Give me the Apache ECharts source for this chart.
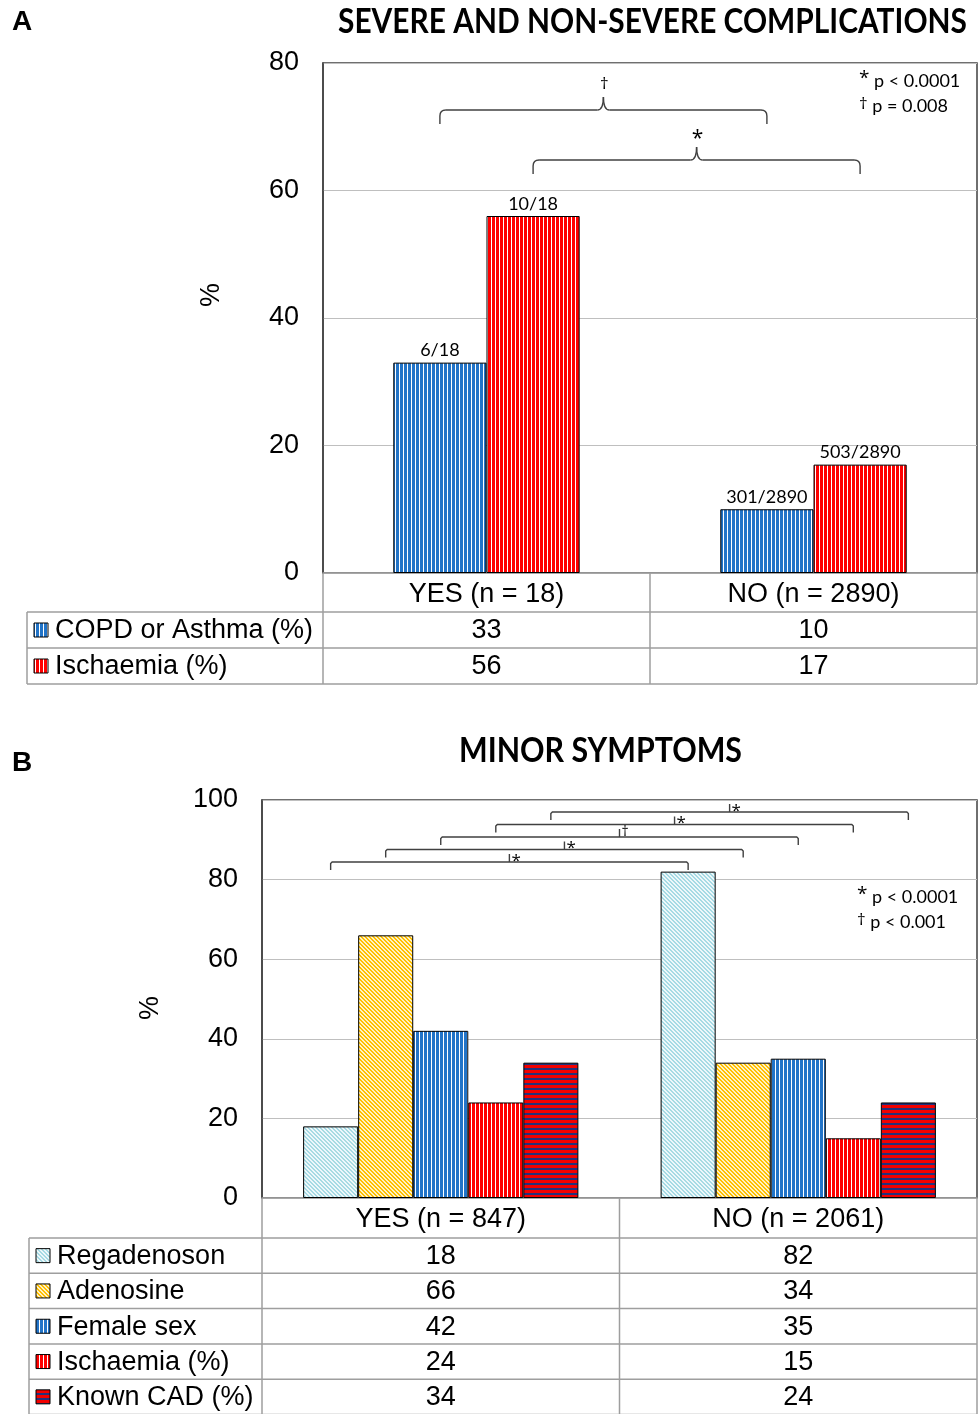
<!DOCTYPE html>
<html><head><meta charset="utf-8">
<script src="https://cdn.jsdelivr.net/npm/echarts@6/dist/echarts.min.js"></script>
<style>html,body{margin:0;padding:0;background:#fff}#c{width:978px;height:1414px}</style>
</head><body><div id="c"></div>
<script>
// ---------------- DATA ----------------
const categoriesA = ['YES (n = 18)', 'NO (n = 2890)'];
const seriesNamesA = ['COPD or Asthma (%)', 'Ischaemia (%)'];
const copdAsthmaA = [33, 10];
const ischaemiaA = [56, 17];
const fractionsCopdA = ['6/18', '301/2890'];
const fractionsIschA = ['10/18', '503/2890'];
const yTicksA = [0, 20, 40, 60, 80];
const comparisonMarksA = ['†', '*'];          // per series: YES vs NO
const pLegendA = [['*', 'p < 0.0001'], ['†', 'p = 0.008']];

const categoriesB = ['YES (n = 847)', 'NO (n = 2061)'];
const seriesNamesB = ['Regadenoson', 'Adenosine', 'Female sex', 'Ischaemia (%)', 'Known CAD (%)'];
const regadenosonB = [18, 82];
const adenosineB = [66, 34];
const femaleSexB = [42, 35];
const ischaemiaB = [24, 15];
const knownCadB = [34, 24];
const yTicksB = [0, 20, 40, 60, 80, 100];
const comparisonMarksB = ['*', '*', '†', '*', '*'];
const pLegendB = [['*', 'p < 0.0001'], ['†', 'p < 0.001']];

const titleA = 'SEVERE AND NON-SEVERE COMPLICATIONS';
const titleB = 'MINOR SYMPTOMS';

// ---------------- STYLE ----------------
const ARIAL = '"Liberation Sans", Arial, sans-serif';
const CALIB = 'Lato, "Open Sans", sans-serif';

function tile(w, h, fn) {
  const c = document.createElement('canvas'); c.width = w; c.height = h;
  const ctx = c.getContext('2d');
  for (let x = 0; x < w; x++) for (let y = 0; y < h; y++) { ctx.fillStyle = fn(x, y); ctx.fillRect(x, y, 1, 1); }
  return { image: c, repeat: 'repeat' };
}
const patBlue = tile(4, 4, x => x < 3 ? '#2274C8' : '#FFFFFF');
const patRed  = tile(4, 4, x => x < 3 ? '#FF0000' : '#FFFFFF');
const patReg  = tile(4, 4, (x, y) => ((x - y + 8) % 4) < 2 ? '#A6DAE4' : '#EEF8FA');
const patAden = tile(4, 4, (x, y) => ((x - y + 8) % 4) < 2 ? '#FFC000' : '#FFF1C6');
const patCad  = tile(10, 10, (x, y) => (y % 5 >= 3) ? '#26307A' : '#F20000');

const patternsA = [patBlue, patRed];
const patternsB = [patReg, patAden, patBlue, patRed, patCad];
const valuesA = [copdAsthmaA, ischaemiaA];
const valuesB = [regadenosonB, adenosineB, femaleSexB, ischaemiaB, knownCadB];
const fractionsA = [fractionsCopdA, fractionsIschA];

const gridA = { left: 323, top: 63, width: 654, height: 510 };
const gridB = { left: 262, top: 800, width: 715, height: 398 };
const gapA = 0.43, gapB = 0.23;

function yAxisCfg(gi, ticks, namePad) {
  return {
    type: 'value', gridIndex: gi, min: ticks[0], max: ticks[ticks.length - 1], interval: ticks[1] - ticks[0],
    axisLine: { show: true, lineStyle: { color: '#404040', width: 1.5 } },
    axisTick: { show: false },
    axisLabel: { fontSize: 27, color: '#000', fontFamily: ARIAL, margin: 24 },
    splitLine: { lineStyle: { color: '#BFBFBF', width: 1.2 } },
    name: '%', nameLocation: 'middle', nameRotate: 90, nameGap: 98,
    nameTextStyle: { fontSize: 27, color: '#000', fontFamily: ARIAL, padding: namePad }
  };
}
function xAxisCfg(gi, cats) {
  return {
    type: 'category', gridIndex: gi, data: cats,
    axisTick: { show: false },
    axisLine: { lineStyle: { color: '#A0A0A0', width: 1.5 } },
    axisLabel: { fontSize: 27, color: '#000', fontFamily: ARIAL, margin: 8 }
  };
}

const series = [];
valuesA.forEach((vals, s) => series.push({
  type: 'bar', name: seriesNamesA[s], xAxisIndex: 0, yAxisIndex: 0, data: vals,
  barGap: '0%', barCategoryGap: (gapA * 100) + '%',
  itemStyle: { color: patternsA[s], borderColor: '#000', borderWidth: 1 },
  label: { show: true, position: 'top', distance: 3, fontSize: 18, fontFamily: CALIB, color: '#000',
           formatter: p => fractionsA[s][p.dataIndex] }
}));
valuesB.forEach((vals, s) => series.push({
  type: 'bar', name: seriesNamesB[s], xAxisIndex: 1, yAxisIndex: 1, data: vals,
  barGap: '0%', barCategoryGap: (gapB * 100) + '%',
  itemStyle: { color: patternsB[s], borderColor: '#000', borderWidth: 1 }
}));

const chart = echarts.init(document.getElementById('c'), null, { renderer: 'canvas' });
chart.setOption({
  animation: false,
  backgroundColor: '#fff',
  grid: [
    Object.assign({ show: true, borderColor: '#404040', borderWidth: 1.5, backgroundColor: 'transparent' }, gridA),
    Object.assign({ show: true, borderColor: '#404040', borderWidth: 1.5, backgroundColor: 'transparent' }, gridB)
  ],
  xAxis: [xAxisCfg(0, categoriesA), xAxisCfg(1, categoriesB)],
  yAxis: [yAxisCfg(0, yTicksA, [0, 0, 0, 46]), yAxisCfg(1, yTicksB, [0, 18, 0, 0])],
  series
});

// ---------------- ANNOTATIONS (graphic, positioned through the axes) ----------------
const els = [];
const LINE = '#9E9E9E';
const BR = '#404040';
function measure(text, font) { const c = document.createElement('canvas').getContext('2d'); c.font = font; return c.measureText(text).width; }
function txt(text, x, y, font, align, opts, rich) {
  const st = { text, x: 0, y: 0, font, fill: '#000', textAlign: align || 'center', textVerticalAlign: 'middle', align: align || 'center', verticalAlign: 'middle' };
  if (rich) st.rich = rich;
  els.push(Object.assign({ type: 'text', x, y, z: 10, style: st }, opts || {}));
}
function ln(x1, y1, x2, y2, color, w) {
  els.push({ type: 'line', z: 10, shape: { x1, y1, x2, y2 }, style: { stroke: color, lineWidth: w || 1.5 } });
}
function bez(x1, y1, cx, cy, x2, y2) {
  els.push({ type: 'bezierCurve', z: 10, shape: { x1, y1, x2, y2, cpx1: cx, cpy1: cy }, style: { stroke: BR, lineWidth: 1.4, fill: null } });
}

function barCenters(gi, cats, nSeries, gap) {
  const p0 = chart.convertToPixel({ gridIndex: gi }, [cats[0], 0]);
  const p1 = chart.convertToPixel({ gridIndex: gi }, [cats[1], 0]);
  const bw = p1[0] - p0[0];
  const barW = bw * (1 - gap) / nSeries;
  const catX = [p0[0], p1[0]];
  return { catX, y0: p0[1], barW, bw, center: (s, i) => catX[i] - barW * nSeries / 2 + barW * (s + 0.5) };
}

// Panel letters and titles
txt('A', 12, 22, 'bold 28px ' + ARIAL, 'left');
txt('B', 12, 763, 'bold 28px ' + ARIAL, 'left');
const tFont = 'bold 34px Lato';
txt(titleA, 652.5, 22, tFont, 'center', { scaleX: 629 / measure(titleA, tFont) });
txt(titleB, 600.5, 751, tFont, 'center', { scaleX: 283 / measure(titleB, tFont) });

// Table builder
function table(grid, L, rowNames, rowVals, rowPats, tableLeft, headerH, rowH) {
  const gl = grid.left, gr = grid.left + grid.width;
  const mid = (L.catX[0] + L.catX[1]) / 2;
  const y0 = L.y0, yh = y0 + headerH, yEnd = yh + rowH * rowNames.length;
  [gl, mid, gr].forEach(x => ln(x, y0, x, yh, LINE));
  for (let k = 0; k <= rowNames.length; k++) ln(tableLeft, yh + k * rowH, gr, yh + k * rowH, LINE);
  [tableLeft, gl, mid, gr].forEach(x => ln(x, yh, x, yEnd, LINE));
  rowNames.forEach((name, r) => {
    const cy = yh + rowH * (r + 0.5);
    els.push({ type: 'rect', z: 10, shape: { x: tableLeft + 7, y: cy - 7, width: 14, height: 14 },
               style: { fill: rowPats[r], stroke: '#000', lineWidth: 1 } });
    txt(name, tableLeft + 28, cy + 1, '27px ' + ARIAL, 'left');
    rowVals[r].forEach((v, i) => txt(String(v), L.catX[i], cy + 1, '27px ' + ARIAL, 'center'));
  });
}

const LA = barCenters(0, categoriesA, valuesA.length, gapA);
const LB = barCenters(1, categoriesB, valuesB.length, gapB);
table(gridA, LA, seriesNamesA, valuesA, patternsA, 27, 39, 36);
table(gridB, LB, seriesNamesB, valuesB, patternsB, 29, 40, 35.3);

const markFont = m => (m === '*' ? '21px "Open Sans"' : '17px "Open Sans"');

// Curly brackets for panel A
const bracketYA = [gridA.top + 47, gridA.top + 97];
comparisonMarksA.forEach((mark, s) => {
  const x1 = LA.center(s, 0), x2 = LA.center(s, 1), xm = (x1 + x2) / 2, y = bracketYA[s];
  const d = 14, r = 6, t = 13;
  ln(x1, y + d, x1, y + r, BR, 1.4); bez(x1, y + r, x1, y, x1 + r, y);
  ln(x1 + r, y, xm - r, y, BR, 1.4);
  bez(xm - r, y, xm, y, xm, y - t); bez(xm, y - t, xm, y, xm + r, y);
  ln(xm + r, y, x2 - r, y, BR, 1.4);
  bez(x2 - r, y, x2, y, x2, y + r); ln(x2, y + r, x2, y + d, BR, 1.4);
  txt(mark, xm + 1, y - t - (mark === '*' ? 8 : 13), markFont(mark), 'center');
});
// Square brackets for panel B
const bracketYB = [gridB.top + 62, gridB.top + 49.5, gridB.top + 37, gridB.top + 24.5, gridB.top + 12];
comparisonMarksB.forEach((mark, s) => {
  const x1 = LB.center(s, 0), x2 = LB.center(s, 1), xm = (x1 + x2) / 2, y = bracketYB[s];
  els.push({ type: 'polyline', z: 10, shape: { points: [[x1, y + 8], [x1, y + 1.5], [x1 + 1.5, y], [x2 - 1.5, y], [x2, y + 1.5], [x2, y + 8]] },
             style: { stroke: BR, lineWidth: 1.4, fill: null } });
  ln(xm, y, xm, y - 8, BR, 1.4);
  txt(mark, xm + 2, y - (mark === '*' ? 1 : 5), mark === '*' ? '17px "Open Sans"' : '14px "Open Sans"', 'left');
});

// p-value legends
function pLegend(items, x, y) {
  items.forEach((it, k) => {
    const mk = it[0] === '*' ? '{m|*}' : '{d|†}';
    txt(mk + ' {t|' + it[1] + '}', x, y + k * 25, '18px ' + CALIB, 'left', null,
        { m: { font: '19px "Open Sans"', padding: [0, 0, 5, 0] }, d: { font: '17px "Open Sans"', padding: [0, 0, 4, 0] }, t: { font: '18px ' + CALIB } });
  });
}
pLegend(pLegendA, gridA.left + gridA.width - 118, gridA.top + 18);
pLegend(pLegendB, gridB.left + gridB.width - 120, gridB.top + 97);

chart.setOption({ graphic: { elements: els } });
</script>
</body></html>
